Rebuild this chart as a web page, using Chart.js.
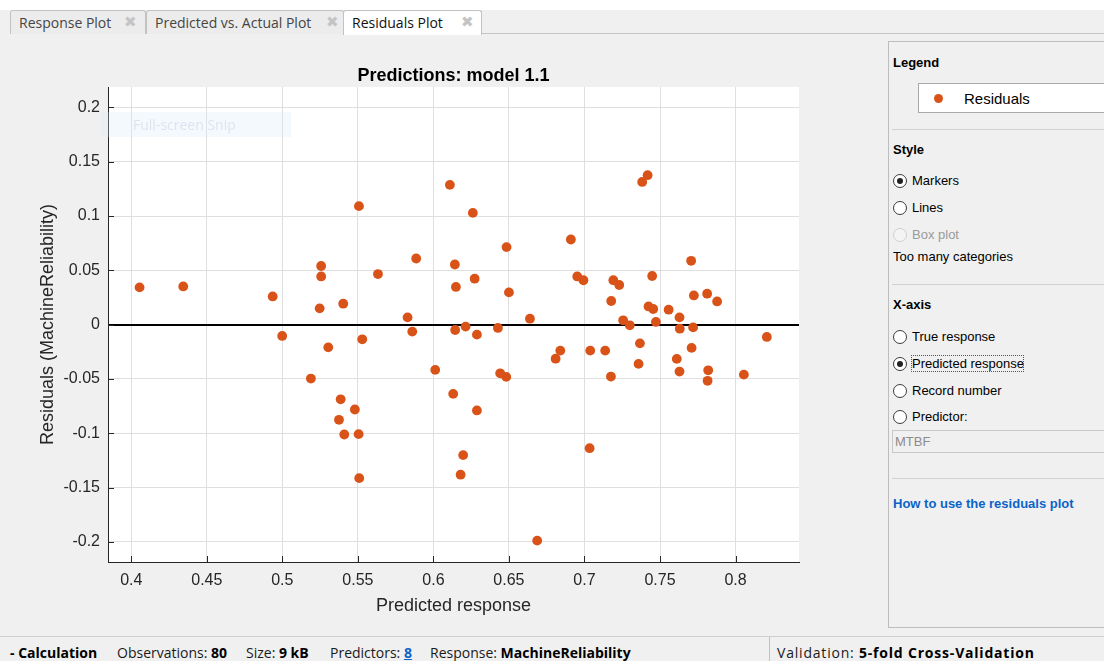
<!DOCTYPE html>
<html>
<head>
<meta charset="utf-8">
<title>Residuals Plot</title>
<script src="https://cdn.jsdelivr.net/npm/chart.js@4.4.1/dist/chart.umd.min.js"></script>
<style>
  html, body { margin:0; padding:0; width:1104px; height:661px; overflow:hidden; background:#f0f0f0;
    font-family:"Liberation Sans", Arial, Helvetica, sans-serif; color:#000; }
  .abs { position:absolute; }
  #topStrip { left:0; top:0; width:1104px; height:10px; background:#fff; }
  #stripLine { left:481px; top:33px; width:623px; height:1px; background:#c4c4c4; }
  .tab { position:absolute; top:10px; height:24px; box-sizing:border-box; border:1px solid #c2c2c2; border-bottom:none;
    border-radius:3px 3px 0 0; background:#ececec; font-family:"Open Sans", sans-serif; font-size:14px; line-height:23px;
    color:#454545; padding-left:8px; white-space:nowrap; }
  .tab.active { background:#fff; color:#111; height:25px; }
  .tab .x { position:absolute; top:0; font-family:"DejaVu Sans", sans-serif; font-size:15px; line-height:22px; color:#c4c4c4; }
  #chartCanvas { position:absolute; left:0; top:0; }
  #snip { left:101px; top:112px; width:190px; height:25px; background:rgba(214,232,250,0.28); z-index:5;
    font-family:"Open Sans", sans-serif; font-size:14px; line-height:25px; color:rgba(150,175,200,0.28); padding-left:32px; box-sizing:border-box; }

  #panel { left:888px; top:41px; width:230px; height:587px; box-sizing:border-box; border:1px solid #bdbdbd; }
  .hdr { position:absolute; left:893px; font-weight:bold; font-size:13px; line-height:16px; }
  .lbl { position:absolute; font-size:13px; line-height:16px; white-space:nowrap; }
  .sep { position:absolute; left:892px; width:212px; height:1px; background:#d2d2d2; }
  .radio { position:absolute; left:893px; width:14px; height:14px; box-sizing:border-box; border:1px solid #3c3c3c;
    border-radius:50%; background:#fff; }
  .radio.on::after { content:""; position:absolute; left:3px; top:3px; width:6px; height:6px; border-radius:50%; background:#222; }
  .radio.off { border-color:#cfcfcf; background:#f4f4f4; }
  #legendBox { left:918px; top:83px; width:200px; height:30px; box-sizing:border-box; border:1px solid #a9a9a9; background:#fff; }
  #legendDot { left:934px; top:94px; width:9px; height:9px; border-radius:50%; background:#D95319; }
  #focusRect { left:911px; top:355px; width:113px; height:17px; box-sizing:border-box; border:1px dotted #555; }
  #mtbf { left:892px; top:430px; width:220px; height:23px; box-sizing:border-box; border:1px solid #c9c9c9; background:#f0f0f0;
    font-size:13px; line-height:21px; color:#8c8c8c; padding-left:2px; }
  #helpLink { left:893px; top:496px; font-weight:bold; color:#0b63c9; font-size:13px; line-height:16px; }

  #statusLine { left:0; top:636px; width:1104px; height:1px; background:#cfcfcf; }
  #statusSep { left:769px; top:637px; width:1px; height:24px; background:#c2c2c2; }
  .st { position:absolute; top:644px; font-family:"Open Sans", sans-serif; font-size:14px; line-height:18px; color:#1a1a1a; white-space:nowrap; }
  .st b { font-weight:bold; color:#000; }
  .st a { color:#0b63c9; text-decoration:underline; font-weight:bold; }
</style>
</head>
<body>

<div class="abs" id="topStrip"></div>
<div class="abs" id="stripLine"></div>
<div class="tab" style="left:10px;width:136px;">Response Plot<span class="x" style="left:113px;">✖</span></div>
<div class="tab" style="left:146px;width:198px;">Predicted vs. Actual Plot<span class="x" style="left:179px;">✖</span></div>
<div class="tab active" style="left:343px;width:139px;">Residuals Plot<span class="x" style="left:117px;">✖</span></div>

<canvas id="chartCanvas" width="888" height="637"></canvas>
<div class="abs" id="snip">Full-screen Snip</div>

<!-- plot options panel -->
<div class="abs" id="panel"></div>
<div class="hdr" style="top:55px;">Legend</div>
<div class="abs" id="legendBox"></div>
<div class="abs" id="legendDot"></div>
<div class="lbl" style="left:964px;top:90px;font-size:15px;line-height:18px;">Residuals</div>
<div class="sep" style="top:129px;"></div>

<div class="hdr" style="top:142px;">Style</div>
<div class="radio on" style="top:174px;"></div><div class="lbl" style="left:912px;top:173px;">Markers</div>
<div class="radio" style="top:201px;"></div><div class="lbl" style="left:912px;top:200px;">Lines</div>
<div class="radio off" style="top:228px;"></div><div class="lbl" style="left:912px;top:227px;color:#9a9a9a;">Box plot</div>
<div class="lbl" style="left:893px;top:249px;">Too many categories</div>
<div class="sep" style="top:284px;"></div>

<div class="hdr" style="top:297px;">X-axis</div>
<div class="radio" style="top:330px;"></div><div class="lbl" style="left:912px;top:329px;">True response</div>
<div class="radio on" style="top:357px;"></div><div class="lbl" style="left:912px;top:356px;">Predicted response</div>
<div class="abs" id="focusRect"></div>
<div class="radio" style="top:384px;"></div><div class="lbl" style="left:912px;top:383px;">Record number</div>
<div class="radio" style="top:410px;"></div><div class="lbl" style="left:912px;top:409px;">Predictor:</div>
<div class="abs" id="mtbf">MTBF</div>
<div class="sep" style="top:478px;"></div>
<div class="abs" id="helpLink">How to use the residuals plot</div>

<!-- status bar -->
<div class="abs" id="statusLine"></div>
<div class="abs" id="statusSep"></div>
<div class="st" style="left:10px;"><b>- Calculation</b></div>
<div class="st" style="left:117px;">Observations: <b>80</b></div>
<div class="st" style="left:246px;">Size: <b>9 kB</b></div>
<div class="st" style="left:330px;">Predictors: <a>8</a></div>
<div class="st" style="left:430px;">Response: <b>MachineReliability</b></div>
<div class="st" style="left:777px;letter-spacing:0.8px;">Validation: <b>5-fold Cross-Validation</b></div>

<script>
// Cross-validated predictions and their residuals (MachineReliability)
const predicted = [
  0.4055, 0.4344, 0.4936, 0.4999, 0.5189, 0.5247, 0.5257, 0.5257, 0.5304, 0.5403,
  0.5386, 0.5375, 0.5410, 0.5480, 0.5505, 0.5507, 0.5509, 0.5529, 0.5633, 0.5829,
  0.5860, 0.5886, 0.6012, 0.6109, 0.6131, 0.6142, 0.6149, 0.6144, 0.6180, 0.6197,
  0.6213, 0.6261, 0.6273, 0.6288, 0.6288, 0.6427, 0.6442, 0.6482, 0.6484, 0.6500,
  0.6687, 0.6639, 0.6809, 0.6840, 0.6910, 0.6952, 0.6993, 0.7034, 0.7038, 0.7137,
  0.7177, 0.7175, 0.7191, 0.7230, 0.7256, 0.7300, 0.7358, 0.7367, 0.7382, 0.7418,
  0.7424, 0.7448, 0.7455, 0.7473, 0.7557, 0.7611, 0.7629, 0.7629, 0.7631, 0.7706,
  0.7709, 0.7724, 0.7719, 0.7812, 0.7819, 0.7815, 0.7878, 0.8055, 0.8207
];
const residuals = [
  0.0343, 0.0352, 0.0260, -0.0104, -0.0496, 0.0150, 0.0540, 0.0444, -0.0209, 0.0193,
  -0.0687, -0.0876, -0.1011, -0.0781, -0.1008, 0.1091, -0.1413, -0.0135, 0.0466, 0.0067,
  -0.0064, 0.0609, -0.0416, 0.1287, -0.0637, 0.0554, 0.0347, -0.0049, -0.1381, -0.1201,
  -0.0018, 0.1029, 0.0423, -0.0092, -0.0790, -0.0030, -0.0448, -0.0481, 0.0714, 0.0297,
  -0.1988, 0.0055, -0.0313, -0.0239, 0.0784, 0.0444, 0.0409, -0.1137, -0.0239, -0.0239,
  0.0218, -0.0478, 0.0409, 0.0365, 0.0040, -0.0006, -0.0361, -0.0172, 0.1314, 0.1376,
  0.0168, 0.0448, 0.0144, 0.0025, 0.0138, -0.0315, 0.0067, -0.0432, -0.0037, 0.0588,
  -0.0214, 0.0269, -0.0025, 0.0285, -0.0420, -0.0517, 0.0214, -0.0460, -0.0113
];

const xTickValues = [0.4, 0.45, 0.5, 0.55, 0.6, 0.65, 0.7, 0.75, 0.8];
const xTickLabels = ['0.4', '0.45', '0.5', '0.55', '0.6', '0.65', '0.7', '0.75', '0.8'];
const yTickValues = [-0.2, -0.15, -0.1, -0.05, 0, 0.05, 0.1, 0.15, 0.2];
const yTickLabels = ['-0.2', '-0.15', '-0.1', '-0.05', '0', '0.05', '0.1', '0.15', '0.2'];

const xLimits = [0.3846, 0.842];
const yLimits = [-0.2185, 0.2188];

const FONT = '"Liberation Sans", Arial, Helvetica, sans-serif';
const AXIS_COLOR = '#262626';
const GRID_COLOR = '#dfdfdf';
const MARKER_COLOR = '#D95319';

function labelFor(values, labels, v) {
  let best = 0;
  for (let i = 1; i < values.length; i++) {
    if (Math.abs(values[i] - v) < Math.abs(values[best] - v)) best = i;
  }
  return labels[best];
}

// White axes background plus MATLAB-style inward tick marks
const axesDecor = {
  id: 'axesDecor',
  beforeDraw(chart) {
    const { ctx, chartArea: a } = chart;
    ctx.save();
    ctx.fillStyle = '#ffffff';
    ctx.fillRect(a.left, a.top, a.right - a.left, a.bottom - a.top);
    ctx.restore();
  },
  afterDraw(chart) {
    const { ctx, chartArea: a, scales } = chart;
    const len = 6;
    ctx.save();
    ctx.strokeStyle = AXIS_COLOR;
    ctx.lineWidth = 1;
    ctx.beginPath();
    scales.x.ticks.forEach(t => {
      const px = Math.round(scales.x.getPixelForValue(t.value)) + 0.5;
      ctx.moveTo(px, a.bottom);
      ctx.lineTo(px, a.bottom - len);
    });
    scales.y.ticks.forEach(t => {
      const py = Math.round(scales.y.getPixelForValue(t.value)) + 0.5;
      ctx.moveTo(a.left, py);
      ctx.lineTo(a.left + len, py);
    });
    ctx.stroke();
    ctx.restore();
  }
};

new Chart(document.getElementById('chartCanvas'), {
  type: 'scatter',
  data: {
    datasets: [{
      label: 'Residuals',
      data: predicted.map((x, i) => ({ x: x, y: residuals[i] })),
      backgroundColor: MARKER_COLOR,
      borderColor: MARKER_COLOR,
      borderWidth: 0,
      pointRadius: 4.9,
      pointHoverRadius: 4.9
    }]
  },
  plugins: [axesDecor],
  options: {
    responsive: false,
    animation: false,
    devicePixelRatio: 1,
    layout: { padding: { left: 0, right: 89, top: 0, bottom: 0 } },
    plugins: {
      legend: { display: false },
      tooltip: { enabled: false },
      title: {
        display: true,
        fullSize: false,
        text: 'Predictions: model 1.1',
        color: '#000',
        font: { family: FONT, size: 18, weight: 'bold', lineHeight: 1.2 },
        padding: { top: 65.4, bottom: 0 }
      }
    },
    scales: {
      x: {
        type: 'linear',
        position: 'bottom',
        min: xLimits[0],
        max: xLimits[1],
        afterBuildTicks: s => { s.ticks = xTickValues.map(v => ({ value: v })); },
        afterFit: s => { s.height = 75; },
        grid: { color: GRID_COLOR, lineWidth: 1, drawTicks: false },
        border: { display: true, color: AXIS_COLOR, width: 1 },
        ticks: {
          padding: 9, color: AXIS_COLOR, autoSkip: false, maxRotation: 0,
          font: { family: FONT, size: 16 },
          callback: v => labelFor(xTickValues, xTickLabels, v)
        },
        title: {
          display: true, text: 'Predicted response', color: AXIS_COLOR,
          font: { family: FONT, size: 18, lineHeight: 1.2 },
          padding: { top: 0, bottom: 20.5 }
        }
      },
      y: {
        type: 'linear',
        position: 'left',
        min: yLimits[0],
        max: yLimits[1],
        afterBuildTicks: s => { s.ticks = yTickValues.map(v => ({ value: v })); },
        afterFit: s => { s.width = 108; },
        grid: {
          drawTicks: false,
          color: c => (c.tick && c.tick.value === 0) ? '#000000' : GRID_COLOR,
          lineWidth: c => (c.tick && c.tick.value === 0) ? 2 : 1
        },
        border: { display: true, color: AXIS_COLOR, width: 1 },
        ticks: {
          padding: 8, color: AXIS_COLOR, autoSkip: false,
          font: { family: FONT, size: 16 },
          callback: v => labelFor(yTickValues, yTickLabels, v)
        },
        title: {
          display: true, text: 'Residuals (MachineReliability)', color: AXIS_COLOR,
          font: { family: FONT, size: 18, lineHeight: 1.2 },
          padding: { top: 37, bottom: 0 }
        }
      }
    }
  }
});
</script>
</body>
</html>
